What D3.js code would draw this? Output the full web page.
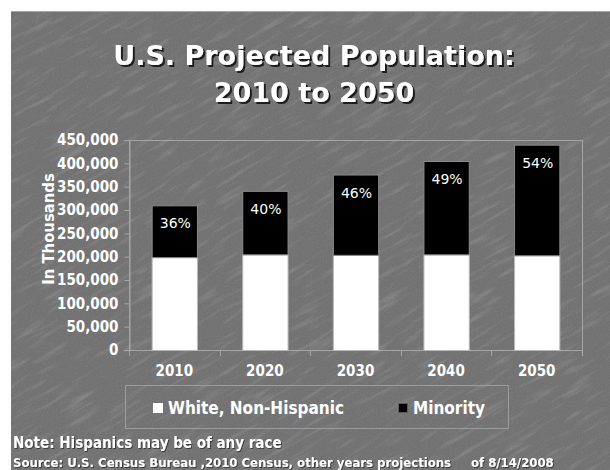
<!DOCTYPE html>
<html>
<head>
<meta charset="utf-8">
<script src="https://cdn.jsdelivr.net/npm/d3@7"></script>
<style>
  html, body { margin: 0; padding: 0; background: #ffffff; }
  svg { display: block; }
  .cond { font-family: "DejaVu Sans Condensed", "DejaVu Sans", sans-serif; font-stretch: condensed; font-weight: bold; }
</style>
</head>
<body>
<svg id="chart" width="610" height="470"></svg>
<script>
// Projected population (thousands) by year, split into two groups
const years = ["2010", "2020", "2030", "2040", "2050"];
const whiteNonHispanic = [199000, 205000, 204000, 205000, 203000];
const minority = [111000, 136000, 172000, 200000, 237000];
const yTicks = [0, 50000, 100000, 150000, 200000, 250000, 300000, 350000, 400000, 450000];
const seriesNames = ["White, Non-Hispanic", "Minority"];

const W = 610, H = 470;
const svg = d3.select("#chart");
const defs = svg.append("defs");

// Stone-like slide background: fine grain plus thin diagonal scratches
const grain = defs.append("filter").attr("id", "grain")
  .attr("x", 0).attr("y", 0).attr("width", "100%").attr("height", "100%");
grain.append("feTurbulence").attr("type", "fractalNoise")
  .attr("baseFrequency", "0.8").attr("numOctaves", 2).attr("seed", 4);
grain.append("feColorMatrix").attr("type", "matrix")
  .attr("values", "0 0 0 0 1  0 0 0 0 1  0 0 0 0 1  1.2 0 0 0 -0.55");

const streak = defs.append("filter").attr("id", "streak")
  .attr("x", 0).attr("y", 0).attr("width", "100%").attr("height", "100%");
streak.append("feTurbulence").attr("type", "fractalNoise")
  .attr("baseFrequency", "0.025 0.18").attr("numOctaves", 3).attr("seed", 11);
streak.append("feColorMatrix").attr("type", "matrix")
  .attr("values", "0 0 0 0 1  0 0 0 0 1  0 0 0 0 1  3 0 0 0 -1.6");

const shadow = defs.append("filter").attr("id", "tshadow")
  .attr("x", "-5%").attr("y", "-20%").attr("width", "110%").attr("height", "150%");
shadow.append("feDropShadow").attr("dx", 2).attr("dy", 2).attr("stdDeviation", 0.6)
  .attr("flood-color", "#1a1a1a").attr("flood-opacity", 1);

const smallShadow = defs.append("filter").attr("id", "nshadow")
  .attr("x", "-5%").attr("y", "-20%").attr("width", "110%").attr("height", "150%");
smallShadow.append("feDropShadow").attr("dx", 1).attr("dy", 1).attr("stdDeviation", 0.4)
  .attr("flood-color", "#2a2a2a").attr("flood-opacity", 0.8);

svg.append("rect").attr("x", 11).attr("y", 11).attr("width", W - 11).attr("height", H - 11)
  .attr("fill", "#727272");
svg.append("rect").attr("x", 11).attr("y", 11).attr("width", W - 11).attr("height", H - 11)
  .attr("fill", "#000").attr("filter", "url(#grain)").attr("opacity", 0.14);
svg.append("g").attr("transform", "translate(300,250) rotate(-30) translate(-450,-400)")
  .append("rect").attr("width", 900).attr("height", 800)
  .attr("filter", "url(#streak)").attr("opacity", 0.13);
// keep the white margin outside the slide
svg.append("rect").attr("x", 0).attr("y", 0).attr("width", W).attr("height", 11).attr("fill", "#fff");
svg.append("rect").attr("x", 0).attr("y", 0).attr("width", 11).attr("height", H).attr("fill", "#fff");
svg.append("line").attr("x1", 11).attr("x2", W).attr("y1", 11.5).attr("y2", 11.5)
  .attr("stroke", "#a8a8a8").attr("stroke-width", 1);

// Title with drop shadow
const titleLines = ["U.S. Projected Population:", "2010 to 2050"];
const titleY = [65, 101.5];
titleLines.forEach((t, i) => {
  svg.append("text").attr("x", 314).attr("y", titleY[i]).attr("text-anchor", "middle")
    .attr("font-family", "DejaVu Sans, sans-serif").attr("font-weight", "bold")
    .attr("font-size", 27).attr("fill", "#ffffff").attr("filter", "url(#tshadow)").text(t);
});

// Plot area
const plot = { left: 129, right: 582, top: 140, bottom: 350 };
const x = d3.scaleBand().domain(years).range([plot.left, plot.right])
  .paddingInner(0.5).paddingOuter(0.25);
const y = d3.scaleLinear().domain([0, 450000]).range([plot.bottom, plot.top]);

const axisColor = "#a6a6a6";
svg.append("rect").attr("x", plot.left + 0.5).attr("y", plot.top + 0.5)
  .attr("width", plot.right - plot.left).attr("height", plot.bottom - plot.top)
  .attr("fill", "none").attr("stroke", axisColor).attr("stroke-width", 1);

// Stacked bars
const rows = years.map((yr, i) => ({ year: yr, white: whiteNonHispanic[i], minority: minority[i] }));
const stack = d3.stack().keys(["white", "minority"])(rows);
const fills = { white: "#ffffff", minority: "#000000" };
const strokes = { white: "#b8b8b8", minority: "#8a8a8a" };

stack.forEach(layer => {
  svg.append("g").selectAll("rect").data(layer).join("rect")
    .attr("x", d => x(d.data.year) + 0.5)
    .attr("y", d => y(d[1]) + 0.5)
    .attr("width", x.bandwidth())
    .attr("height", d => y(d[0]) - y(d[1]))
    .attr("fill", fills[layer.key])
    .attr("stroke", strokes[layer.key]).attr("stroke-width", 1);
});

// Minority share labels
svg.append("g").selectAll("text").data(rows).join("text")
  .attr("x", d => x(d.year) + x.bandwidth() / 2 + 1)
  .attr("y", d => y(d.white + d.minority) + 23)
  .attr("text-anchor", "middle")
  .attr("font-family", "DejaVu Sans, sans-serif").attr("font-size", 14)
  .attr("fill", "#ffffff")
  .text(d => Math.round(d.minority / (d.white + d.minority) * 100) + "%");

// Y axis
const yAxis = svg.append("g").attr("transform", `translate(${plot.left + 0.5},0)`)
  .call(d3.axisLeft(y).tickValues(yTicks).tickFormat(d3.format(",")).tickSize(5).tickPadding(6));
yAxis.select(".domain").attr("stroke", axisColor);
yAxis.selectAll(".tick line").attr("stroke", axisColor);
yAxis.selectAll(".tick text").attr("class", "cond").attr("font-size", 15).attr("fill", "#ffffff");

// X axis: labels centred on bars, ticks at category boundaries
const xAxis = svg.append("g").attr("transform", `translate(0,${plot.bottom + 0.5})`)
  .call(d3.axisBottom(x).tickSize(0).tickPadding(15));
xAxis.select(".domain").remove();
xAxis.selectAll(".tick text").attr("class", "cond").attr("font-size", 15).attr("fill", "#ffffff");
const bounds = d3.range(years.length + 1).map(i => plot.left + i * x.step());
svg.append("g").selectAll("line").data(bounds).join("line")
  .attr("x1", d => Math.round(d) + 0.5).attr("x2", d => Math.round(d) + 0.5)
  .attr("y1", plot.bottom).attr("y2", plot.bottom + 6)
  .attr("stroke", axisColor);

// Y axis title
svg.append("text").attr("class", "cond")
  .attr("transform", "translate(54,229) rotate(-90)")
  .attr("text-anchor", "middle").attr("font-size", 16.5).attr("fill", "#ffffff")
  .text("In Thousands");

// Legend
svg.append("rect").attr("x", 125.5).attr("y", 385.5).attr("width", 383).attr("height", 43)
  .attr("fill", "none").attr("stroke", "#9c9c9c").attr("stroke-width", 1);
const legendX = [153, 398];
seriesNames.forEach((name, i) => {
  const key = i === 0 ? "white" : "minority";
  svg.append("rect").attr("x", legendX[i] + 0.5).attr("y", 403.5).attr("width", 9).attr("height", 9)
    .attr("fill", fills[key]).attr("stroke", i === 0 ? "#ffffff" : "#5a5a5a");
  svg.append("text").attr("class", "cond").attr("x", legendX[i] + 15).attr("y", 414)
    .attr("font-size", 17).attr("fill", "#ffffff").text(name);
});

// Footnotes
function note(txt, xPos, yPos, size) {
  svg.append("text").attr("class", "cond").attr("x", xPos).attr("y", yPos)
    .attr("font-size", size).attr("fill", "#ffffff").attr("filter", "url(#nshadow)").text(txt);
}
note("Note: Hispanics may be of any race", 13, 448, 15);
note("Source: U.S. Census Bureau ,2010 Census, other years projections", 13, 467, 13);
note("of 8/14/2008", 471, 467, 13);
</script>
</body>
</html>
